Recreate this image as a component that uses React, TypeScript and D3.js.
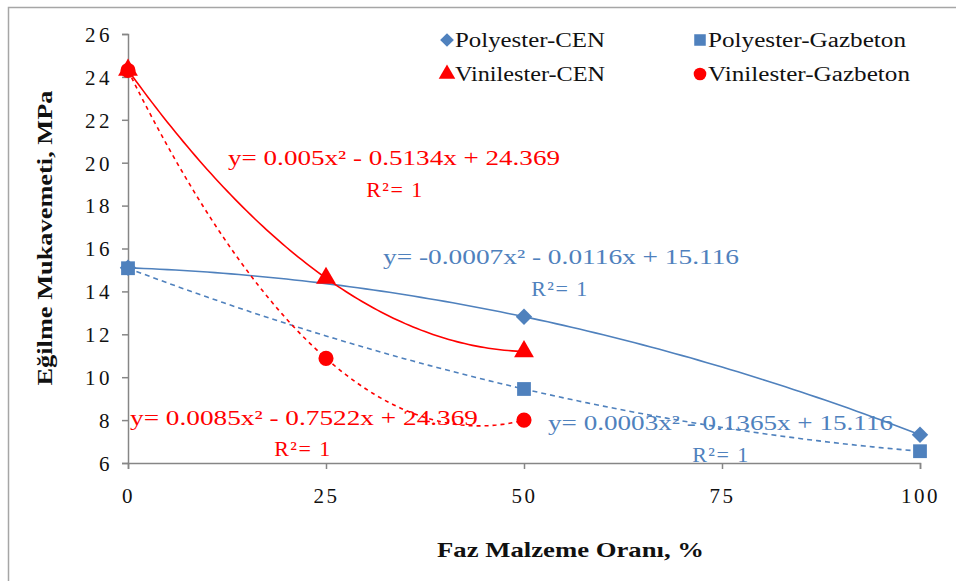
import React, { useRef, useEffect } from "react";
import * as d3 from "d3";

// Faz malzeme orani (%) and egilme mukavemeti (MPa)
const polyesterCenX = [0, 50, 100];
const polyesterCenY = [15.1, 12.82, 7.32];
const polyesterGazX = [0, 50, 100];
const polyesterGazY = [15.08, 9.45, 6.55];
const vinilesterCenX = [0, 25, 50];
const vinilesterCenY = [24.32, 14.62, 11.2];
const vinilesterGazX = [0, 25, 50];
const vinilesterGazY = [24.3, 10.88, 8.0];

const xTicks = [0, 25, 50, 75, 100];
const yTicks = [6, 8, 10, 12, 14, 16, 18, 20, 22, 24, 26];

const BLUE = "#4F81BD";
const RED = "#FF0000";
const FONT = "'Liberation Serif', 'Times New Roman', serif";

// quadratic through the points (what Excel's order-2 trendline gives for 3 points)
const quadFit = (xs, ys) => {
  return (x) => {
    let s = 0;
    for (let i = 0; i < xs.length; i++) {
      let l = 1;
      for (let j = 0; j < xs.length; j++) {
        if (j !== i) l *= (x - xs[j]) / (xs[i] - xs[j]);
      }
      s += ys[i] * l;
    }
    return s;
  };
};

const series = [
  { name: "Polyester-CEN", xs: polyesterCenX, ys: polyesterCenY, color: BLUE, dash: null, marker: "diamond" },
  { name: "Polyester-Gazbeton", xs: polyesterGazX, ys: polyesterGazY, color: BLUE, dash: "5,4", marker: "square" },
  { name: "Vinilester-CEN", xs: vinilesterCenX, ys: vinilesterCenY, color: RED, dash: null, marker: "triangle" },
  { name: "Vinilester-Gazbeton", xs: vinilesterGazX, ys: vinilesterGazY, color: RED, dash: "4,4", marker: "circle" },
];

const labels = [
  { eq: "y= 0.005x² - 0.5134x + 24.369", x0: 228, x1: 560, y: 165, rx: 395, ry: 197, color: RED },
  { eq: "y= -0.0007x² - 0.0116x + 15.116", x0: 383, x1: 739, y: 264, rx: 560, ry: 296, color: BLUE },
  { eq: "y= 0.0085x² - 0.7522x + 24.369", x0: 130, x1: 478, y: 425, rx: 303, ry: 456, color: RED },
  { eq: "y= 0.0003x² - 0.1365x + 15.116", x0: 548, x1: 893, y: 430, rx: 721, ry: 462, color: BLUE },
];

const legendItems = [
  { s: 0, x: 447, y: 40, tw: 150 },
  { s: 1, x: 700, y: 40, tw: 198 },
  { s: 2, x: 447, y: 74, tw: 150 },
  { s: 3, x: 700, y: 74, tw: 202 },
];

// diamond is drawn as a square turned 45 degrees, like Excel's marker
const symbolFor = (m) =>
  m === "diamond" || m === "square" ? d3.symbolSquare : m === "triangle" ? d3.symbolTriangle : d3.symbolCircle;
const sizeFor = (m) => (m === "diamond" ? 135 : m === "square" ? 190 : m === "triangle" ? 170 : 180);
const rotFor = (m) => (m === "diamond" ? 45 : 0);

const App = () => {
  const svgRef = useRef(null);

  useEffect(() => {
    const svg = d3.select(svgRef.current);
    svg.selectAll("*").remove();

    const x = d3.scaleLinear().domain([0, 100]).range([128, 920]);
    const y = d3.scaleLinear().domain([6, 26]).range([463, 34]);

    // outer chart frame (only top and left visible in the crop)
    svg.append("rect")
      .attr("x", 8.5).attr("y", 7.5).attr("width", 1000).attr("height", 700)
      .attr("fill", "white").attr("stroke", "#a6a6a6").attr("stroke-width", 1.5);

    // axes
    const yAxis = svg.append("g").attr("transform", `translate(${x(0)},0)`)
      .call(d3.axisLeft(y).tickValues(yTicks).tickSize(6).tickPadding(9));
    const xAxis = svg.append("g").attr("transform", `translate(0,${y(6)})`)
      .call(d3.axisBottom(x).tickValues(xTicks).tickSize(6).tickPadding(19));
    [yAxis, xAxis].forEach(a => {
      a.select(".domain").attr("stroke", "#868686").attr("stroke-width", 1.5);
      a.selectAll(".tick line").attr("stroke", "#868686").attr("stroke-width", 1.5);
      a.selectAll("text")
        .attr("font-family", FONT).attr("font-size", 21)
        .attr("letter-spacing", 2.5).attr("fill", "#111");
    });
    yAxis.selectAll("text").attr("dy", "0.35em").attr("letter-spacing", 3.5);

    // trendlines
    const line = d3.line().x(d => x(d[0])).y(d => y(d[1]));
    series.forEach(s => {
      const f = quadFit(s.xs, s.ys);
      const lo = d3.min(s.xs), hi = d3.max(s.xs);
      const pts = d3.range(0, 101).map(i => {
        const xv = lo + (hi - lo) * i / 100;
        return [xv, f(xv)];
      });
      svg.append("path")
        .attr("d", line(pts))
        .attr("fill", "none")
        .attr("stroke", s.color)
        .attr("stroke-width", 1.6)
        .attr("stroke-dasharray", s.dash);
    });

    // markers
    series.forEach(s => {
      svg.append("g").selectAll("path")
        .data(s.xs.map((xv, i) => [xv, s.ys[i]]))
        .join("path")
        .attr("transform", d => `translate(${x(d[0])},${y(d[1])}) rotate(${rotFor(s.marker)})`)
        .attr("d", d3.symbol().type(symbolFor(s.marker)).size(sizeFor(s.marker)))
        .attr("fill", s.color);
    });

    // trendline equations
    labels.forEach(l => {
      svg.append("text")
        .attr("x", l.x0).attr("y", l.y)
        .attr("textLength", l.x1 - l.x0).attr("lengthAdjust", "spacingAndGlyphs")
        .attr("font-family", FONT).attr("font-size", 22)
        .attr("fill", l.color)
        .text(l.eq);
      svg.append("text")
        .attr("x", l.rx).attr("y", l.ry)
        .attr("text-anchor", "middle")
        .attr("font-family", FONT).attr("font-size", 22)
        .attr("letter-spacing", 1.5)
        .attr("fill", l.color)
        .text("R²= 1");
    });

    // legend
    legendItems.forEach(li => {
      const s = series[li.s];
      svg.append("path")
        .attr("transform", `translate(${li.x},${li.y}) rotate(${rotFor(s.marker)})`)
        .attr("d", d3.symbol().type(symbolFor(s.marker)).size(sizeFor(s.marker) * 0.7))
        .attr("fill", s.color);
      svg.append("text")
        .attr("x", li.x + 8).attr("y", li.y + 7)
        .attr("textLength", li.tw).attr("lengthAdjust", "spacingAndGlyphs")
        .attr("font-family", FONT).attr("font-size", 20)
        .attr("fill", "#111")
        .text(s.name);
    });

    // axis titles
    svg.append("text")
      .attr("transform", `translate(52,238) rotate(-90)`)
      .attr("text-anchor", "middle")
      .attr("textLength", 295).attr("lengthAdjust", "spacingAndGlyphs")
      .attr("font-family", FONT).attr("font-size", 21).attr("font-weight", "bold")
      .attr("fill", "#111")
      .text("Eğilme Mukavemeti, MPa");
    svg.append("text")
      .attr("x", 437).attr("y", 557)
      .attr("textLength", 267).attr("lengthAdjust", "spacingAndGlyphs")
      .attr("font-family", FONT).attr("font-size", 21).attr("font-weight", "bold")
      .attr("fill", "#111")
      .text("Faz Malzeme Oranı, %");
  }, []);

  return (
    <div style={{ position: "fixed", left: 0, top: 0, width: 956, height: 581, background: "white" }}>
      <svg ref={svgRef} width={956} height={581} />
    </div>
  );
};

export default App;
